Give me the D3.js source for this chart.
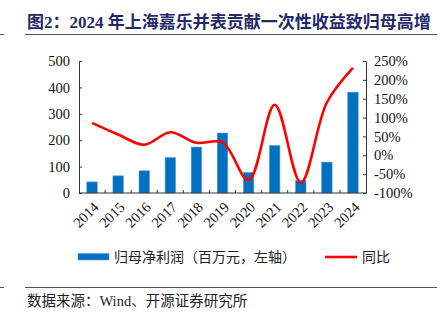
<!DOCTYPE html>
<html><head><meta charset="utf-8">
<script src="https://cdn.jsdelivr.net/npm/d3@7/dist/d3.min.js"></script>
<style>
body{margin:0;background:#fff;}
svg{display:block;}
</style></head>
<body>
<svg id="chart" width="442" height="326"></svg>
<script>
const years = ["2014","2015","2016","2017","2018","2019","2020","2021","2022","2023","2024"];
const profit = [42, 65, 84, 134, 174, 227, 78, 180, 48, 117, 382];
const yoy = [86, 55, 28, 61, 33, 34, -66, 134, -72, 140, 232];
const leftTicks = [0, 100, 200, 300, 400, 500];
const rightTicks = [-100, -50, 0, 50, 100, 150, 200, 250];
const titleText = "图2：2024 年上海嘉乐并表贡献一次性收益致归母高增";
const legendBar = "归母净利润（百万元，左轴）";
const legendLine = "同比";
const sourceText = "数据来源：Wind、开源证券研究所";

const svg = d3.select("#chart");
const serif = "'Liberation Serif','Times New Roman','Noto Sans CJK SC',serif";
const cjk = "'Liberation Serif','Noto Sans CJK SC',sans-serif";
const L = 79, R = 366, T = 61, B = 193;

const x = d3.scaleBand().domain(years).range([L, R]).paddingInner(0.6).paddingOuter(0.3);
const xb = d3.scaleBand().domain(years).range([L, R]);
const yL = d3.scaleLinear().domain([0, 500]).range([B, T]);
const yR = d3.scaleLinear().domain([-100, 250]).range([B, T]);

// title
svg.append("text").attr("x", 27).attr("y", 28)
  .attr("font-family", cjk).attr("font-weight", "bold").attr("font-size", 17)
  .attr("fill", "#1f2a6b").text(titleText);
svg.append("line").attr("x1", 25).attr("x2", 437).attr("y1", 34.5).attr("y2", 34.5).attr("stroke", "#555").attr("stroke-width", 1);
svg.append("line").attr("x1", 0).attr("x2", 4).attr("y1", 34.5).attr("y2", 34.5).attr("stroke", "#555").attr("stroke-width", 1);

// bars
svg.append("g").selectAll("rect").data(years).join("rect")
  .attr("x", d => x(d)).attr("width", x.bandwidth())
  .attr("y", (d, i) => yL(profit[i])).attr("height", (d, i) => B - yL(profit[i]))
  .attr("fill", "#0070c0").attr("stroke", "#5b9bd5").attr("stroke-width", 0.6);

// line
const line = d3.line().x((d, i) => xb(years[i]) + xb.bandwidth() / 2).y(d => yR(d))
  .curve(d3.curveCatmullRom.alpha(0.5));
svg.append("path").datum(yoy).attr("d", line).attr("fill", "none")
  .attr("stroke", "#ff0000").attr("stroke-width", 2.6).attr("stroke-linejoin", "round");

// axes
const axL = d3.axisLeft(yL).tickValues(leftTicks).tickSizeInner(-3).tickSizeOuter(0).tickPadding(9);
const gL = svg.append("g").attr("transform", `translate(${L},0)`).call(axL);
const axR = d3.axisRight(yR).tickValues(rightTicks).tickSizeInner(-3).tickSizeOuter(0).tickPadding(8)
  .tickFormat(d => d + "%");
const gR = svg.append("g").attr("transform", `translate(${R},0)`).call(axR);
[gL, gR].forEach(g => {
  g.select(".domain").attr("stroke", "#333");
  g.selectAll(".tick line").attr("stroke", "#333");
  g.selectAll("text").attr("font-family", serif).attr("font-size", 14.5).attr("fill", "#111");
});
// x axis
const gX = svg.append("g").attr("transform", `translate(0,${B})`);
gX.append("line").attr("x1", L).attr("x2", R).attr("stroke", "#333");
gX.selectAll("line.tk").data(years.slice(1)).join("line").attr("class", "tk")
  .attr("x1", d => xb(d)).attr("x2", d => xb(d)).attr("y1", 0).attr("y2", -3).attr("stroke", "#333");
gX.selectAll("text").data(years).join("text")
  .attr("transform", d => `translate(${xb(d) + xb.bandwidth() / 2 + 4},${11.5}) rotate(-45)`)
  .attr("text-anchor", "end").attr("dy", "0.35em")
  .attr("font-family", serif).attr("font-size", 14.5).attr("fill", "#111").text(d => d);

// legend
svg.append("rect").attr("x", 78).attr("y", 253.5).attr("width", 31).attr("height", 6.5)
  .attr("fill", "#0070c0").attr("stroke", "#5b9bd5").attr("stroke-width", 0.6);
svg.append("text").attr("x", 114).attr("y", 262).attr("font-family", cjk).attr("font-size", 14)
  .attr("fill", "#222").text(legendBar);
svg.append("line").attr("x1", 325).attr("x2", 357).attr("y1", 257).attr("y2", 257)
  .attr("stroke", "#ff0000").attr("stroke-width", 2.6);
svg.append("text").attr("x", 362).attr("y", 262).attr("font-family", cjk).attr("font-size", 14)
  .attr("fill", "#222").text(legendLine);

// footer
svg.append("line").attr("x1", 25).attr("x2", 437).attr("y1", 287.5).attr("y2", 287.5).attr("stroke", "#555");
svg.append("line").attr("x1", 0).attr("x2", 4).attr("y1", 287.5).attr("y2", 287.5).attr("stroke", "#555");
svg.append("text").attr("x", 27).attr("y", 305.5).attr("font-family", cjk).attr("font-size", 14.5)
  .attr("fill", "#222").text(sourceText);
</script>
</body></html>
